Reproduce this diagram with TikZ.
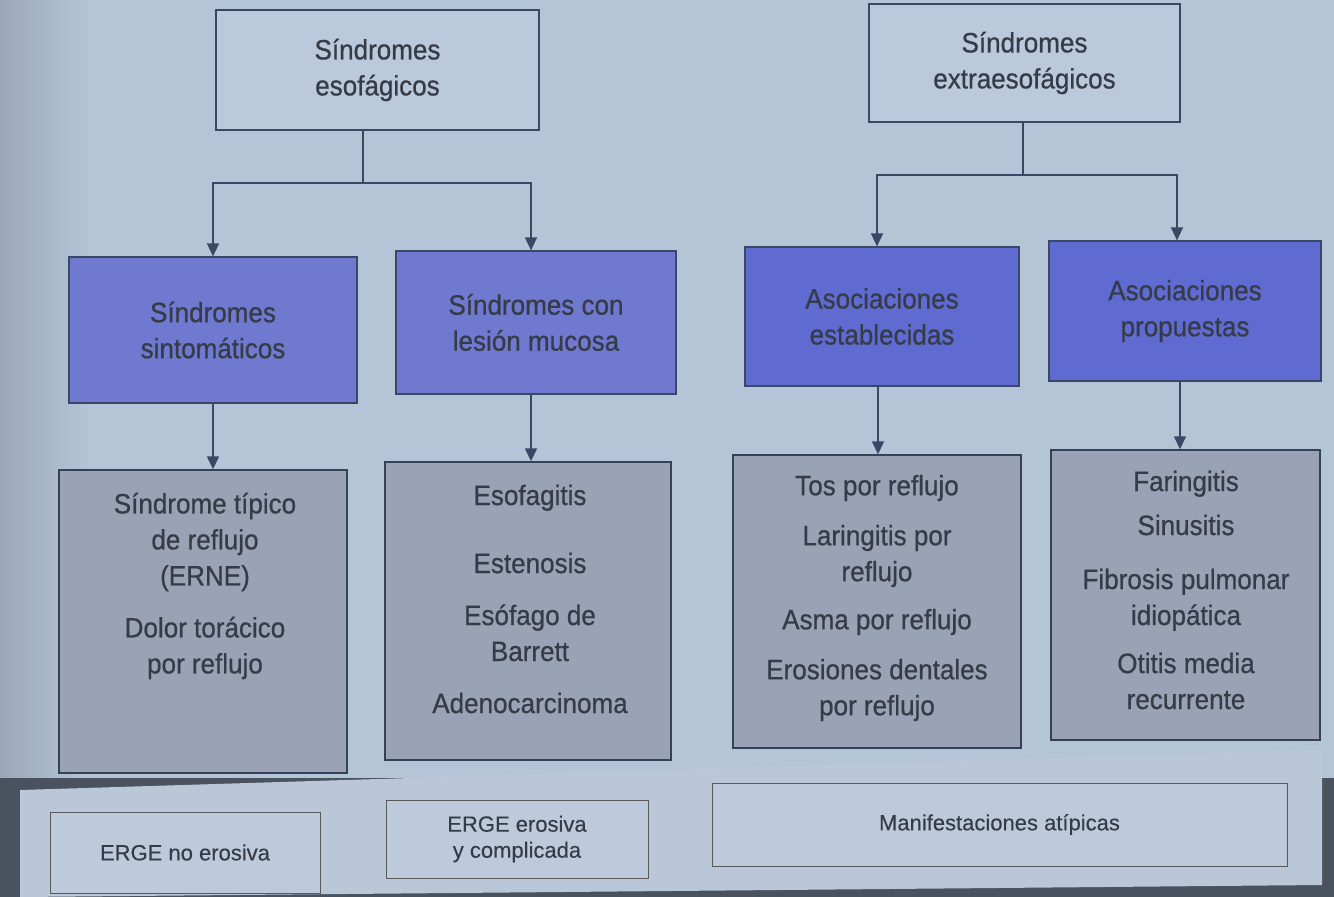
\documentclass[tikz,border=0pt]{standalone}
\usepackage{fontspec}
\setmainfont{Liberation Sans}[FakeStretch=0.93, FakeBold=0.7]
\newfontfamily\smallfam{Liberation Sans}[FakeStretch=1.0, FakeBold=0.3]
\usetikzlibrary{arrows.meta}
\definecolor{bg}{HTML}{B5C5D8}
\definecolor{topfill}{HTML}{BAC9DB}
\definecolor{purp}{HTML}{6E79CF}
\definecolor{purpd}{HTML}{5F6BD0}
\definecolor{grayb}{HTML}{99A3B5}
\definecolor{txt}{HTML}{363B48}
\definecolor{ln}{HTML}{3B4865}
\definecolor{dark}{HTML}{4A515F}
\definecolor{panel}{HTML}{B9C7D9}
\definecolor{smallbox}{HTML}{BDCADB}
\tikzset{
  every node/.style={text=txt},
  bigtxt/.style={font=\fontsize{28}{36}\selectfont, align=center},
  topbox/.style={draw=ln, line width=1.6pt, fill=topfill, bigtxt},
  purpbox/.style={draw=ln, line width=1.2pt, fill=purp, bigtxt},
  graybox/.style={draw=ln!90!black, line width=1.4pt, fill=grayb},
  smbox/.style={draw=gray!70!black, line width=1pt, fill=smallbox, font=\smallfam\fontsize{22}{26}\selectfont, align=center},
  conn/.style={draw=ln, line width=1.4pt},
  arr/.style={conn, -{Triangle[length=13pt, width=12pt]}},
}
\begin{document}
\begin{tikzpicture}[x=1pt,y=-1pt]
\useasboundingbox (0,0) rectangle (1334,897);
\fill[bg] (0,0) rectangle (1334,897);
\shade[left color=bg!85!black, right color=bg] (0,0) rectangle (90,790);
% bottom strip
\fill[dark] (0,778) rectangle (1334,897);
\fill[panel] (20,790) -- (1322,750) -- (1322,885) -- (20,897) -- cycle;

% top boxes
\node[topbox, minimum width=323pt, minimum height=120pt] (tl) at (377.5,70) {Síndromes\\esofágicos};
\node[topbox, minimum width=311pt, minimum height=118pt] (tr) at (1024.5,63) {Síndromes\\extraesofágicos};

% purple boxes
\node[purpbox, minimum width=288pt, minimum height=146pt] (p1) at (213,330) {Síndromes\\sintomáticos};
\node[purpbox, minimum width=280pt, minimum height=143pt] (p2) at (536,322.5) {Síndromes con\\lesión mucosa};
\node[purpbox, fill=purpd, minimum width=274pt, minimum height=139pt] (p3) at (882,316.5) {Asociaciones\\establecidas};
\node[purpbox, fill=purpd, minimum width=272pt, minimum height=140pt] (p4) at (1185,311) {Asociaciones\\propuestas};

% gray boxes
\node[graybox, minimum width=288pt, minimum height=303pt] (g1) at (203,621.5) {};
\node[graybox, minimum width=286pt, minimum height=298pt] (g2) at (528,611) {};
\node[graybox, minimum width=288pt, minimum height=293pt] (g3) at (877,601.5) {};
\node[graybox, minimum width=269pt, minimum height=290pt] (g4) at (1185.5,595) {};

\node[bigtxt] (g1t) at (205,586) {Síndrome típico\\de reflujo\\(ERNE)\\[16pt]Dolor torácico\\por reflujo};
\node[bigtxt] (g2t) at (530,599) {Esofagitis\\[32pt]Estenosis\\[16pt]Esófago de\\Barrett\\[16pt]Adenocarcinoma};
\node[bigtxt] (g3t) at (877,598) {Tos por reflujo\\[14pt]Laringitis por\\reflujo\\[12pt]Asma por reflujo\\[14pt]Erosiones dentales\\por reflujo};
\node[bigtxt] (g4t) at (1186,590) {Faringitis\\[8pt]Sinusitis\\[18pt]Fibrosis pulmonar\\idiopática\\[12pt]Otitis media\\recurrente};

% bottom boxes
\node[smbox, minimum width=270pt, minimum height=81pt] (b1) at (185,852.5) {ERGE no erosiva};
\node[smbox, minimum width=262pt, minimum height=78pt] (b2) at (517,839) {ERGE erosiva\\y complicada};
\node[smbox, minimum width=575pt, minimum height=83pt] (b3) at (999.5,824.5) {Manifestaciones atípicas};

% connectors
\coordinate (j1) at (363,183);
\coordinate (j2) at (1023,175);
\draw[conn] (j1 |- tl.south) -- (j1);
\draw[arr] (j1) -| (p1.north);
\draw[arr] (j1) -| (p2.north -| 531,0);
\draw[conn] (j2 |- tr.south) -- (j2);
\draw[arr] (j2) -| (p3.north -| 877,0);
\draw[arr] (j2) -| (p4.north -| 1177,0);

\draw[arr] (p1.south) -- (g1.north -| p1.south);
\draw[arr] (p2.south -| 531,0) -- (g2.north -| 531,0);
\draw[arr] (p3.south -| 878,0) -- (g3.north -| 878,0);
\draw[arr] (p4.south -| 1180,0) -- (g4.north -| 1180,0);
\end{tikzpicture}
\end{document}
